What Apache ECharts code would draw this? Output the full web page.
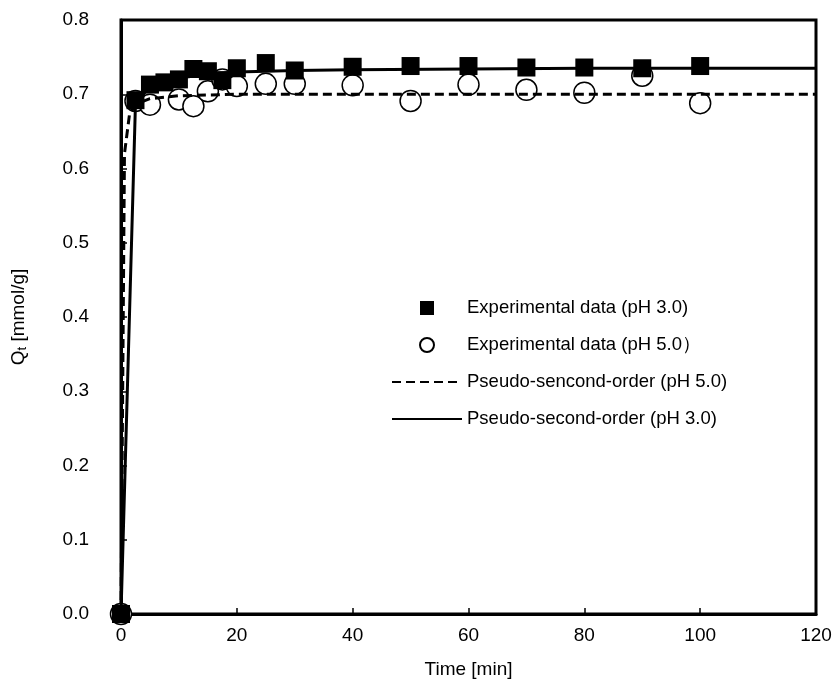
<!DOCTYPE html>
<html>
<head>
<meta charset="utf-8">
<script src="https://cdn.jsdelivr.net/npm/echarts@6/dist/echarts.min.js"></script>
<style>
  html, body { margin: 0; padding: 0; background: #fff; }
  #chart { width: 840px; height: 684px; }
</style>
</head>
<body>
<div id="chart"></div>
<script>
// experimental points, pH 3.0 (filled squares)
const timePh3 = [0, 2.5, 5, 7.5, 10, 12.5, 15, 17.5, 20, 25, 30, 40, 50, 60, 70, 80, 90, 100];
const qPh3 = [0, 0.692, 0.713, 0.716, 0.72, 0.734, 0.731, 0.719, 0.735, 0.742, 0.732, 0.737, 0.738, 0.738, 0.736, 0.736, 0.735, 0.738];

// experimental points, pH 5.0 (open circles)
const timePh5 = [0, 2.5, 5, 10, 12.5, 15, 17.5, 20, 25, 30, 40, 50, 60, 70, 80, 90, 100];
const qPh5 = [0, 0.691, 0.686, 0.693, 0.684, 0.704, 0.72, 0.711, 0.714, 0.714, 0.712, 0.691, 0.713, 0.706, 0.702, 0.725, 0.688];

// pseudo-second-order curves
const fitTimePh3 = [0, 2.5, 5, 7.5, 10, 15, 20, 30, 40, 60, 80, 100, 120];
const fitPh3 = [0, 0.688, 0.71, 0.717, 0.722, 0.727, 0.73, 0.732, 0.733, 0.734, 0.735, 0.735, 0.735];
const fitTimePh5 = [0, 0.6, 1.5, 3, 5, 10, 20, 40, 120];
const fitPh5 = [0, 0.62, 0.675, 0.688, 0.694, 0.698, 0.7, 0.7, 0.7];

const xTicks = [0, 20, 40, 60, 80, 100, 120];
const yTicks = [0, 0.1, 0.2, 0.3, 0.4, 0.5, 0.6, 0.7, 0.8];

const pairs = (xs, ys) => xs.map((x, i) => [x, ys[i]]);

const FONT = "Liberation Sans, Arial, sans-serif";
const chart = echarts.init(document.getElementById("chart"), null, { renderer: "canvas" });

// line series get a dot in their legend icon by default, hide it
const noDot = { color: "rgba(0,0,0,0)", borderColor: "rgba(0,0,0,0)", borderWidth: 0 };

chart.setOption({
  animation: false,
  textStyle: { fontFamily: FONT, color: "#000" },
  grid: {
    left: 121, right: 24, top: 20, bottom: 70,
    show: true, borderColor: "#000", borderWidth: 3
  },
  xAxis: {
    type: "value",
    min: xTicks[0], max: xTicks[xTicks.length - 1], interval: 20,
    name: "Time [min]", nameLocation: "middle", nameGap: 46,
    nameTextStyle: { fontSize: 19, color: "#000", fontFamily: FONT },
    axisLine: { lineStyle: { color: "#000", width: 3 } },
    axisTick: { inside: true, length: 6, lineStyle: { color: "#000", width: 1.5 } },
    axisLabel: { fontSize: 19, color: "#000", margin: 12, fontFamily: FONT },
    splitLine: { show: false }
  },
  yAxis: {
    type: "value",
    min: yTicks[0], max: yTicks[yTicks.length - 1], interval: 0.1,
    name: "{q|Q}{s|t}{q| [mmol/g]}", nameLocation: "middle", nameGap: 92, nameRotate: 90,
    nameTextStyle: {
      fontFamily: FONT,
      rich: {
        q: { fontSize: 19, color: "#000", fontFamily: FONT },
        s: { fontSize: 13, color: "#000", fontFamily: FONT, verticalAlign: "bottom", padding: [8, 0, 0, 0] }
      }
    },
    axisLine: { lineStyle: { color: "#000", width: 3 } },
    axisTick: { inside: true, length: 6, lineStyle: { color: "#000", width: 1.5 } },
    axisLabel: { fontSize: 19, color: "#000", margin: 32, fontFamily: FONT, formatter: v => v.toFixed(1) },
    splitLine: { show: false }
  },
  legend: {
    orient: "vertical",
    left: 386, top: 293,
    itemWidth: 70, itemHeight: 14, itemGap: 17,
    textStyle: { fontSize: 18.5, lineHeight: 20, color: "#000", fontFamily: FONT },
    data: [
      { name: "Experimental data (pH 3.0)", icon: "path://M0,0L10,0L10,10L0,10Z" },
      { name: "Experimental data (pH 5.0）", icon: "circle" },
      { name: "Pseudo-sencond-order (pH 5.0)", itemStyle: noDot },
      { name: "Pseudo-second-order (pH 3.0)", itemStyle: noDot }
    ]
  },
  series: [
    {
      name: "Experimental data (pH 5.0）",
      type: "scatter",
      symbol: "circle", symbolSize: 21,
      itemStyle: { color: "#fff", borderColor: "#000", borderWidth: 1.5, opacity: 1 },
      data: pairs(timePh5, qPh5),
      z: 2
    },
    {
      name: "Experimental data (pH 3.0)",
      type: "scatter",
      symbol: "rect", symbolSize: 18,
      itemStyle: { color: "#000", opacity: 1 },
      data: pairs(timePh3, qPh3),
      z: 3
    },
    {
      name: "Pseudo-sencond-order (pH 5.0)",
      type: "line",
      showSymbol: false, symbol: "none",
      lineStyle: { color: "#000", width: 3, type: [9, 5] },
      itemStyle: { color: "#000" },
      data: pairs(fitTimePh5, fitPh5),
      z: 4
    },
    {
      name: "Pseudo-second-order (pH 3.0)",
      type: "line",
      showSymbol: false, symbol: "none",
      lineStyle: { color: "#000", width: 3 },
      itemStyle: { color: "#000" },
      data: pairs(fitTimePh3, fitPh3),
      z: 4
    }
  ]
});
</script>
</body>
</html>
